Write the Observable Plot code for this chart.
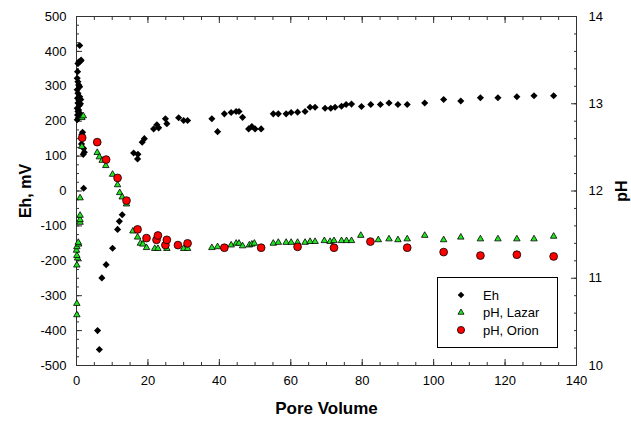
<!DOCTYPE html>
<html><head><meta charset="utf-8">
<script src="https://cdn.jsdelivr.net/npm/d3@7"></script>
<script src="https://cdn.jsdelivr.net/npm/@observablehq/plot@0.6"></script>
<style>
body{margin:0;background:#fff;font-family:"Liberation Sans",Arial,sans-serif;}
#wrap{position:relative;width:631px;height:421px;}
#legend{position:absolute;left:437px;top:277px;}
</style></head><body><div id="wrap"></div>
<script>
// Eh series (pore volume, mV)
const ehPoreVolume = [0.9,0.4,0.7,1.1,1.3,0.3,0.2,0.4,0.6,0.9,0.2,0.4,0.3,0.4,0.2,0.4,0.3,0.5,0.2,0.7,0.9,1.1,0.8,1.2,0.6,0.9,1.0,1.7,1.5,1.4,2.0,2.2,1.9,2.0,
  5.9,6.4,7.1,8.3,10.1,11.5,12.0,12.8,
  16.0,17.2,17.1,18.4,19.0,21.6,22.5,23.0,24.9,25.3,28.6,30.0,31.1,
  37.9,39.5,41.4,43.3,44.7,45.5,46.5,48.2,49.1,50.0,51.7,
  55.1,56.5,58.7,60.1,61.9,64.0,65.4,66.8,69.6,71.2,72.4,74.2,75.5,77.0,79.8,82.4,85.1,87.5,90.0,92.6,97.5,102.8,107.6,113.1,118.0,123.3,128.1,133.6];
const ehMillivolts = [417,365,370,372,375,342,323,313,304,299,290,280,266,252,237,228,218,209,204,260,270,250,245,262,232,215,222,168,162,135,122,111,105,8,
  -400,-454,-249,-211,-164,-110,-87,-68,
  109,105,92,140,150,178,190,181,207,193,210,202,202,
  207,170,221,225,228,228,211,178,185,178,178,
  221,221,221,225,226,228,240,240,237,237,240,243,248,249,242,248,248,252,248,248,252,262,258,267,267,270,273,273];

// pH, Lazar electrode
const lazarPoreVolume = [0.1,0.1,0.1,0.3,0.1,0.0,0.1,0.6,0.5,1.0,1.0,1.0,1.0,1.5,1.5,1.9,
  5.8,6.4,7.2,8.2,10.1,11.5,12.1,12.8,14.0,15.8,17.1,17.9,18.6,19.6,21.9,22.8,25.3,30.0,31.1,
  37.9,39.5,43.3,44.7,45.5,46.5,48.4,49.1,49.8,55.1,56.5,58.7,60.1,61.9,64.0,65.4,66.8,69.4,71.0,72.1,74.2,75.6,77.0,
  79.6,84.5,87.5,90.0,92.6,97.5,102.8,107.6,113.1,118.0,123.3,128.1,133.6];
const lazarPH = [10.58,10.71,11.15,11.23,11.26,11.32,11.36,11.39,11.41,11.64,11.67,11.72,11.92,12.51,12.84,12.86,
  12.44,12.39,12.35,12.29,12.19,12.07,11.98,11.93,11.85,11.54,11.47,11.40,11.39,11.35,11.34,11.34,11.34,11.34,11.34,
  11.35,11.36,11.38,11.40,11.40,11.37,11.38,11.39,11.40,11.40,11.41,11.41,11.41,11.41,11.41,11.42,11.42,11.43,11.42,11.43,11.43,11.43,11.43,
  11.49,11.44,11.45,11.44,11.45,11.49,11.44,11.47,11.45,11.45,11.45,11.45,11.48];

// pH, Orion electrode
const orionPoreVolume = [1.6,5.8,8.3,11.5,14.0,17.1,19.6,22.4,22.8,24.9,25.3,28.4,31.1,41.4,51.7,61.9,72.1,82.3,92.6,102.8,113.1,123.3,133.6];
const orionPH = [12.61,12.56,12.36,12.15,11.89,11.56,11.46,11.44,11.49,11.38,11.44,11.38,11.40,11.35,11.35,11.36,11.35,11.42,11.35,11.30,11.26,11.27,11.25];

// ticks
const xMajorTicks = [0,20,40,60,80,100,120,140];
const xMinorTicks = d3.range(0,141,5);
const ehMajorTicks = [-500,-400,-300,-200,-100,0,100,200,300,400,500];
const ehMinorTicks = d3.range(-500,501,25);
const pHMajorTicks = [10,11,12,13,14];
const pHMinorTicks = d3.range(50).map(i => 10 + i*0.2).filter(v => v <= 14.001);

// pH axis is aligned to Eh axis: pH 10..14 <-> Eh -500..500
const pHtoEh = p => (p - 12) * 250;
const ehToPH = e => Math.round((e / 250 + 12) * 100) / 100;

const eh = ehPoreVolume.map((x, i) => ({x, y: ehMillivolts[i]}));
const lazar = lazarPoreVolume.map((x, i) => ({x, y: pHtoEh(lazarPH[i])}));
const orion = orionPoreVolume.map((x, i) => ({x, y: pHtoEh(orionPH[i])}));

const axisColor = "#333";
const chart = Plot.plot({
  width: 631, height: 421,
  marginLeft: 76, marginRight: 55, marginTop: 16, marginBottom: 56,
  style: {fontFamily: "'Liberation Sans', Arial, sans-serif", fontSize: "13px", color: "#000", background: "#fff"},
  x: {domain: [0, 140]},
  y: {domain: [-500, 500]},
  marks: [
    // minor ticks (inward)
    Plot.axisX({anchor: "bottom", ticks: xMinorTicks, tickSize: -3, fill: "none", stroke: axisColor, label: null}),
    Plot.axisX({anchor: "top", ticks: xMinorTicks, tickSize: -3, fill: "none", stroke: axisColor, label: null}),
    Plot.axisY({anchor: "left", ticks: ehMinorTicks, tickSize: -3, fill: "none", stroke: axisColor, label: null}),
    Plot.axisY({anchor: "right", ticks: pHMinorTicks.map(pHtoEh), tickSize: -3, fill: "none", stroke: axisColor, label: null}),
    // major ticks (inward)
    Plot.axisX({anchor: "bottom", ticks: xMajorTicks, tickSize: -6, fill: "none", stroke: axisColor, label: null}),
    Plot.axisX({anchor: "top", ticks: xMajorTicks, tickSize: -6, fill: "none", stroke: axisColor, label: null}),
    Plot.axisY({anchor: "left", ticks: ehMajorTicks, tickSize: -6, fill: "none", stroke: axisColor, label: null}),
    Plot.axisY({anchor: "right", ticks: pHMajorTicks.map(pHtoEh), tickSize: -6, fill: "none", stroke: axisColor, label: null}),
    // tick labels
    Plot.axisX({anchor: "bottom", ticks: xMajorTicks, tickSize: 0, tickPadding: 10, tickFormat: d => String(d), label: null}),
    Plot.axisY({anchor: "left", ticks: ehMajorTicks, tickSize: 0, tickPadding: 10, tickFormat: d => String(d), label: null}),
    Plot.axisY({anchor: "right", ticks: pHMajorTicks.map(pHtoEh), tickSize: 0, tickPadding: 12, tickFormat: d => String(ehToPH(d)), label: null}),
    Plot.frame({stroke: axisColor}),
    // axis titles
    Plot.text(["Eh, mV"], {text: d => d, frameAnchor: "left", textAnchor: "middle", lineAnchor: "middle", rotate: -90, dx: -51, fontSize: 16, fontWeight: "bold"}),
    Plot.text(["pH"], {text: d => d, frameAnchor: "right", textAnchor: "middle", lineAnchor: "middle", rotate: -90, dx: 45, fontSize: 16, fontWeight: "bold"}),
    Plot.text(["Pore Volume"], {text: d => d, frameAnchor: "bottom", textAnchor: "middle", lineAnchor: "middle", dy: 43, fontSize: 17, fontWeight: "bold"}),
    // data
    Plot.dot(eh, {x: "x", y: "y", symbol: "diamond2", r: 3.2, fill: "#000", stroke: "none"}),
    Plot.dot(lazar, {x: "x", y: "y", symbol: "triangle2", r: 3.1, fill: "#22e622", stroke: "#000", strokeWidth: 0.8}),
    Plot.dot(orion, {x: "x", y: "y", symbol: "circle", r: 3.9, fill: "#ff0000", stroke: "#000", strokeWidth: 0.8})
  ]
});
const wrap = document.getElementById("wrap");
wrap.appendChild(chart);

// legend box
const legendItems = [
  {label: "Eh", symbol: d3.symbolDiamond2, size: 28, fill: "#000", stroke: "none"},
  {label: "pH, Lazar", symbol: d3.symbolTriangle2, size: 26, fill: "#22e622", stroke: "#000"},
  {label: "pH, Orion", symbol: d3.symbolCircle, size: 40, fill: "#ff0000", stroke: "#000"}
];
const lg = d3.create("svg").attr("id", "legend").attr("width", 121).attr("height", 71)
  .style("position", "absolute").style("left", "437px").style("top", "277px");
lg.append("rect").attr("x", 0.5).attr("y", 0.5).attr("width", 120).attr("height", 70).attr("fill", "#fff").attr("stroke", "#000");
legendItems.forEach((d, i) => {
  const cy = 18 + i * 17.5;
  lg.append("path").attr("d", d3.symbol(d.symbol, d.size)()).attr("transform", `translate(24,${cy})`)
    .attr("fill", d.fill).attr("stroke", d.stroke).attr("stroke-width", 0.8);
  lg.append("text").attr("x", 46).attr("y", cy).attr("dy", "0.35em").attr("font-size", 13)
    .attr("font-family", "'Liberation Sans', Arial, sans-serif").text(d.label);
});
wrap.appendChild(lg.node());
</script>
</body></html>
